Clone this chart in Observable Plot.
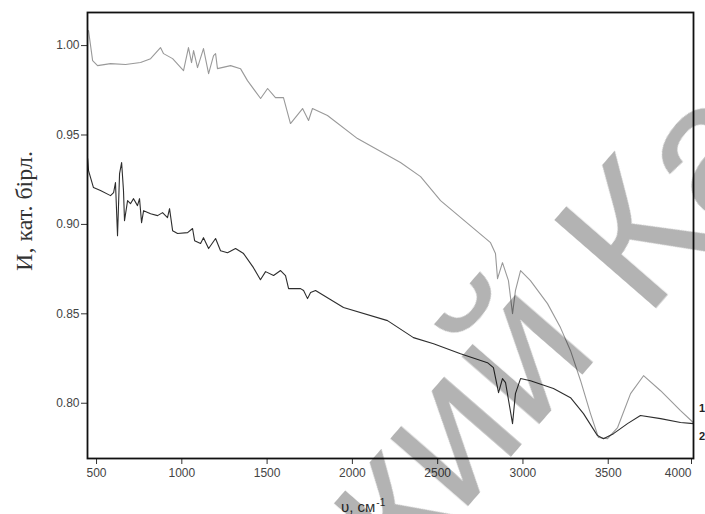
<!DOCTYPE html>
<html>
<head>
<meta charset="utf-8">
<script src="https://cdn.jsdelivr.net/npm/d3@7"></script>
<script src="https://cdn.jsdelivr.net/npm/@observablehq/plot@0.6"></script>
<style>
  html, body { margin: 0; padding: 0; background: #fff; }
  #chart svg { display: block; }
</style>
</head>
<body>
<div id="chart"></div>
<script>
// Curve 1 (light grey)
const wavenumber1 = [453, 465, 477, 506, 582, 670, 758, 817, 875, 893, 946, 1010, 1039, 1057, 1069, 1092, 1127, 1157, 1186, 1198, 1209, 1286, 1344, 1385, 1462, 1503, 1549, 1596, 1637, 1708, 1743, 1766, 1854, 2030, 2282, 2400, 2517, 2810, 2839, 2851, 2880, 2915, 2939, 2956, 2986, 3044, 3144, 3220, 3279, 3338, 3396, 3443, 3496, 3555, 3631, 3707, 3807, 3924, 4000];
const intensity1 = [1.0084, 1.0000, 0.9916, 0.9888, 0.9899, 0.9894, 0.9905, 0.9927, 0.9989, 0.9955, 0.9927, 0.9860, 0.9989, 0.9905, 0.9972, 0.9877, 0.9983, 0.9843, 0.9944, 0.9955, 0.9871, 0.9888, 0.9871, 0.9804, 0.9704, 0.9760, 0.9709, 0.9709, 0.9564, 0.9648, 0.9581, 0.9648, 0.9609, 0.9480, 0.9346, 0.9267, 0.9133, 0.8898, 0.8837, 0.8697, 0.8786, 0.8686, 0.8501, 0.8630, 0.8742, 0.8686, 0.8557, 0.8423, 0.8294, 0.8126, 0.7942, 0.7808, 0.7802, 0.7864, 0.8054, 0.8154, 0.8070, 0.7959, 0.7891];

// Curve 2 (dark)
const wavenumber2 = [448, 453, 482, 523, 582, 600, 611, 623, 635, 647, 658, 664, 682, 699, 717, 740, 752, 764, 776, 817, 858, 887, 916, 928, 946, 975, 1034, 1063, 1075, 1110, 1127, 1157, 1198, 1227, 1268, 1315, 1362, 1420, 1461, 1491, 1538, 1579, 1608, 1626, 1696, 1714, 1737, 1755, 1784, 1948, 2206, 2358, 2476, 2634, 2792, 2827, 2857, 2880, 2898, 2939, 2956, 2986, 3044, 3179, 3279, 3355, 3437, 3472, 3531, 3613, 3689, 3807, 3924, 4000];
const intensity2 = [0.9368, 0.9301, 0.9206, 0.9189, 0.9161, 0.9178, 0.9234, 0.8937, 0.9284, 0.9346, 0.9189, 0.9021, 0.9133, 0.9116, 0.9144, 0.9105, 0.9144, 0.9010, 0.9077, 0.9060, 0.9049, 0.9066, 0.9038, 0.9088, 0.8965, 0.8949, 0.8954, 0.8977, 0.8909, 0.8893, 0.8926, 0.8865, 0.8921, 0.8853, 0.8842, 0.8865, 0.8837, 0.8758, 0.8691, 0.8736, 0.8714, 0.8742, 0.8714, 0.8641, 0.8641, 0.8630, 0.8585, 0.8619, 0.8630, 0.8535, 0.8462, 0.8367, 0.8333, 0.8277, 0.8227, 0.8199, 0.8059, 0.8138, 0.8115, 0.7886, 0.8054, 0.8138, 0.8126, 0.8082, 0.8031, 0.7942, 0.7819, 0.7802, 0.7830, 0.7886, 0.7931, 0.7914, 0.7892, 0.7886];

const xTicks = [500, 1000, 1500, 2000, 2500, 3000, 3500];
const xLastTick = [4000];
const yTicks = [0.80, 0.85, 0.90, 0.95, 1.00];
const yLabel = "И, кат. бірл.";
const xLabelMain = "υ, см";
const xLabelSup = "-1";
const curveLabels = ["1", "2"];
const watermarkLeft = "кий";
const watermarkRight = "Ка";

const series1 = wavenumber1.map((x, i) => ({x, y: intensity1[i]}));
const series2 = wavenumber2.map((x, i) => ({x, y: intensity2[i]}));

const svg = Plot.plot({
  width: 705,
  height: 514,
  marginLeft: 87,
  marginRight: 12,
  marginTop: 12,
  marginBottom: 56,
  style: {fontFamily: "'Liberation Sans', Arial, sans-serif", fontSize: "12px", color: "#444", background: "#fff"},
  x: {domain: [447, 4000]},
  y: {domain: [0.7691, 1.0185]},
  marks: [
    Plot.axisX({ticks: xTicks, tickFormat: d => String(d), tickSize: 6, tickPadding: 4, label: null, stroke: "#333", fill: "#444"}),
    Plot.axisX({ticks: xLastTick, tickFormat: d => String(d), tickSize: 6, tickPadding: 4, label: null, stroke: "#333", fill: "#444", textAnchor: "end", dx: -2}),
    Plot.axisY({ticks: yTicks, tickFormat: d => d.toFixed(2), tickSize: 6, tickPadding: 2, label: null, stroke: "#333", fill: "#444"}),
    Plot.line(series1, {x: "x", y: "y", stroke: "#999", strokeWidth: 1.1}),
    Plot.line(series2, {x: "x", y: "y", stroke: "#2e2e2e", strokeWidth: 1.1}),
    Plot.frame({stroke: "#111", strokeWidth: 1.8})
  ]
});

const s = d3.select(svg);

// y label
s.append("text")
  .attr("transform", "translate(32,211) rotate(-90)")
  .attr("text-anchor", "middle")
  .attr("font-family", "'Liberation Serif', 'DejaVu Serif', serif")
  .attr("font-size", 24)
  .attr("fill", "#333")
  .text(yLabel);

// x label
const xl = s.append("text")
  .attr("x", 341)
  .attr("y", 512)
  .attr("text-anchor", "start")
  .attr("font-family", "'Liberation Sans', Arial, sans-serif")
  .attr("font-size", 15)
  .attr("fill", "#333");
xl.append("tspan").text(xLabelMain);
xl.append("tspan").attr("dy", -6).attr("dx", 1).attr("font-size", 10).text(xLabelSup);

// cut-off curve numbers at right edge
s.append("text").attr("x", 702).attr("y", 412).attr("font-size", 11).attr("font-weight", "bold").attr("fill", "#222").text(curveLabels[0]);
s.append("text").attr("x", 702).attr("y", 440).attr("font-size", 11).attr("font-weight", "bold").attr("fill", "#222").text(curveLabels[1]);

// watermark
const wm = s.append("g").style("mix-blend-mode", "multiply");
wm.append("text")
  .attr("transform", "translate(602,352) rotate(-49)")
  .attr("text-anchor", "end")
  .attr("font-family", "'Liberation Sans', Arial, sans-serif")
  .attr("font-size", 195)
  .attr("fill", "#b3b3b3")
  .text(watermarkLeft);
wm.append("text")
  .attr("transform", "translate(645,320) rotate(-49)")
  .attr("text-anchor", "start")
  .attr("font-family", "'Liberation Sans', Arial, sans-serif")
  .attr("font-size", 195)
  .attr("fill", "#b3b3b3")
  .text(watermarkRight);

document.getElementById("chart").appendChild(svg);
</script>
</body>
</html>
